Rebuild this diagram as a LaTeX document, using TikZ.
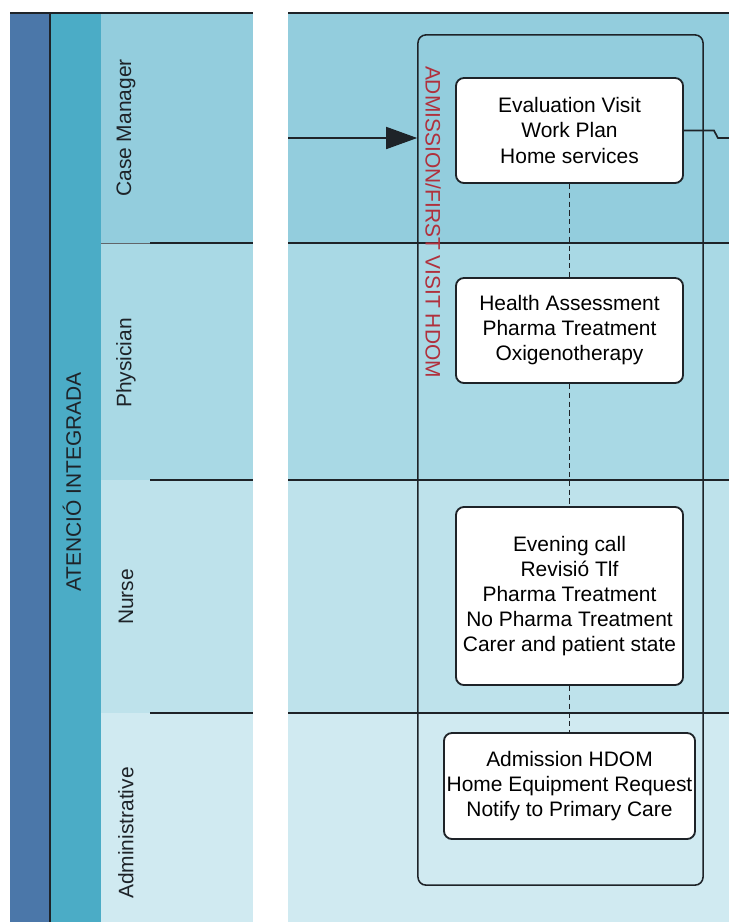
\documentclass[tikz,border=0pt]{standalone}
\usepackage{fontspec}
\setmainfont{Liberation Sans}
\usetikzlibrary{arrows.meta}

\definecolor{bluscuro}{HTML}{4B77A9}
\definecolor{turchese}{HTML}{4BACC6}
\definecolor{corsiaA}{HTML}{93CDDD}
\definecolor{corsiaB}{HTML}{A9D9E5}
\definecolor{corsiaC}{HTML}{BEE2EB}
\definecolor{corsiaD}{HTML}{D0EAF1}
\definecolor{rossoscuro}{HTML}{B0303C}
\definecolor{inchiostro}{HTML}{1E2328}

\tikzset{
  attivita/.style={draw=inchiostro, line width=1.3pt, fill=white, rounded corners=0.2cm,
    align=center, inner sep=0.05cm, minimum width=5.675cm},
  gruppo/.style={draw=inchiostro, line width=1.1pt, rounded corners=0.2cm},
  collegamento/.style={draw=inchiostro, line width=1pt, dash pattern=on 0.13cm off 0.09cm},
  corsia/.style={rotate=90, text=inchiostro}
}

\begin{document}
\begin{tikzpicture}[x=0.025cm, y=-0.025cm, font=\fontsize{14.9pt}{17.8pt}\selectfont]
\useasboundingbox (0,0) rectangle (729,922);

% Pannello sinistro (intestazioni)
\fill[bluscuro] (10,13) rectangle (50,922);
\fill[turchese] (50,13) rectangle (101,922);
\fill[corsiaA] (101,13) rectangle (253,243);
\fill[corsiaB] (101,243) rectangle (253,480);
\fill[corsiaC] (101,480) rectangle (253,713);
\fill[corsiaD] (101,713) rectangle (253,922);

% Pannello destro (corsie)
\fill[corsiaA] (288,13) rectangle (729,243);
\fill[corsiaB] (288,243) rectangle (729,480);
\fill[corsiaC] (288,480) rectangle (729,713);
\fill[corsiaD] (288,713) rectangle (729,922);

% Bordi e separatori
\draw[inchiostro, line width=1.5pt] (10,13) -- (253,13);
\draw[inchiostro, line width=1.5pt] (288,13) -- (729,13);
\draw[inchiostro, line width=0.9pt] (50,13) -- (50,922);
\draw[inchiostro!70, line width=0.5pt] (101,243) -- (150,243);
\draw[inchiostro, line width=2pt] (150,243) -- (253,243);
\draw[inchiostro, line width=2pt] (288,243) -- (729,243);
\draw[inchiostro, line width=1pt] (150,480) -- (253,480);
\draw[inchiostro, line width=1pt] (288,480) -- (729,480);
\draw[inchiostro, line width=1pt] (150,713) -- (253,713);
\draw[inchiostro, line width=1pt] (288,713) -- (729,713);

% Etichette
\node[corsia] (area) at (72,482) {ATENCIÓ INTEGRADA};
\node[corsia] (manager) at (126,128) {Case Manager};
\node[corsia] (medico) at (126,363) {Physician};
\node[corsia] (infermiere) at (126,597) {Nurse};
\node[corsia] (amministrativo) at (126,833) {Administrative};

% Fase
\node[gruppo, minimum width=7.125cm, minimum height=21.25cm] (fase) at (560.5,460) {};
\node[rotate=-90, text=rossoscuro] (titolo) at (433,222) {ADMISSION/FIRST VISIT HDOM};

% Attivita
\node[attivita, minimum height=2.625cm] (valutazione) at (569.5,130.5)
  {Evaluation Visit\\Work Plan\\Home services};
\node[attivita, minimum height=2.625cm] (salute) at (569.5,330.5)
  {Health Assessment\\Pharma Treatment\\Oxigenotherapy};
\node[attivita, minimum height=4.45cm] (chiamata) at (569.5,596)
  {Evening call\\Revisió Tlf\\Pharma Treatment\\No Pharma Treatment\\Carer and patient state};
\node[attivita, minimum width=6.275cm, minimum height=2.65cm] (ammissione) at (569.5,786)
  {Admission HDOM\\Home Equipment Request\\Notify to Primary Care};

% Collegamenti
\draw[collegamento] (valutazione.south) -- (salute.north);
\draw[collegamento] (salute.south) -- (chiamata.north);
\draw[collegamento] (chiamata.south) -- (ammissione.north);

\coordinate (ingresso) at (288,138);
\coordinate (uscita) at (729,138);
\draw[inchiostro, line width=1.2pt, -{Triangle[length=0.775cm, width=0.55cm]}] (ingresso) -- (fase.west |- ingresso); % freccia d'ingresso
\draw[inchiostro, line width=1.2pt] (valutazione.east) -- ++(30,0) -- ++(4,7.5) -- (uscita); % uscita verso destra

\end{tikzpicture}
\end{document}
